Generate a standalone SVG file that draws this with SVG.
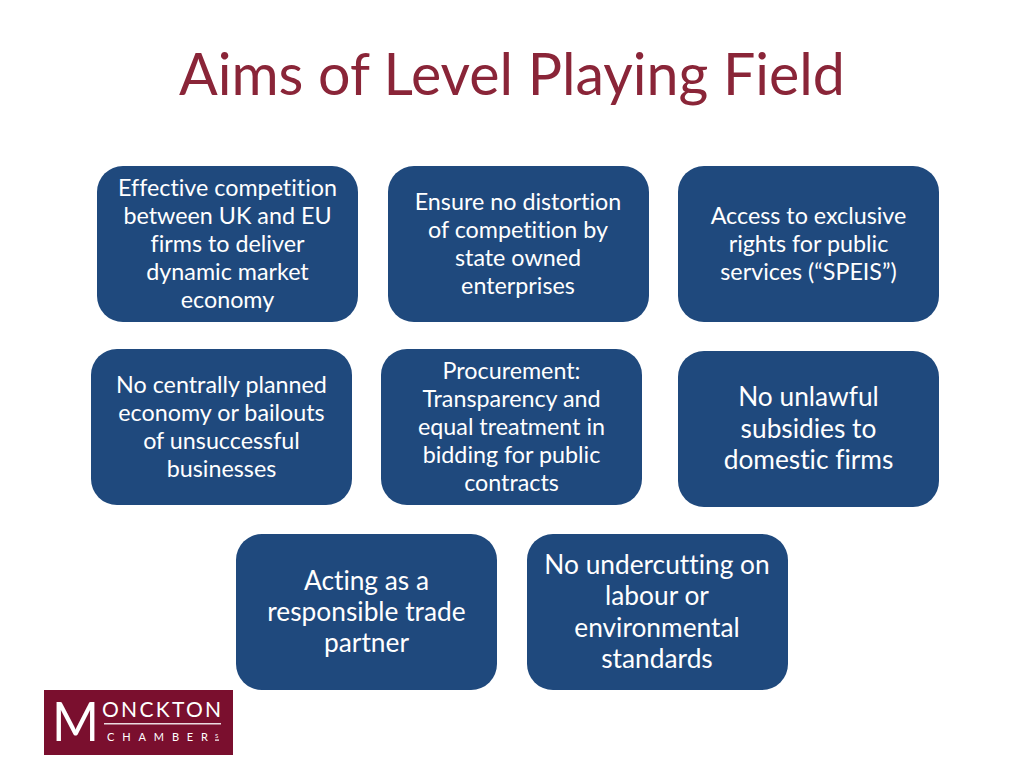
<svg xmlns="http://www.w3.org/2000/svg" width="1024" height="768" viewBox="0 0 1024 768">
<style>
text{font-variant-ligatures:none}
.b{fill:#1f497d}
.t{font-family:"Lato","Noto Sans",sans-serif;fill:#fff;text-anchor:middle;font-size:23.300px}
.l{font-size:26.300px}
.h{font-family:"Lato","Noto Sans",sans-serif;fill:#8a2538;font-size:57.300px}
.m{font-family:"Lato","Liberation Sans",sans-serif;fill:#fff}
</style>
<rect width="1024" height="768" fill="#fff"/>
<text class="h" x="512" y="95" text-anchor="middle">Aims of Level Playing Field</text>
<g id="n1"><rect class="b" x="97" y="166" width="261" height="156" rx="26"/><text class="t" x="227.500" y="195.500">Effective competition</text><text class="t" x="227.500" y="223.500">between UK and EU</text><text class="t" x="227.500" y="251.500">firms to deliver</text><text class="t" x="227.500" y="279.500">dynamic market</text><text class="t" x="227.500" y="307.500">economy</text></g>
<g id="n2"><rect class="b" x="388" y="166" width="261" height="156" rx="26"/><text class="t" x="518" y="209.500">Ensure no distortion</text><text class="t" x="518" y="237.500">of competition by</text><text class="t" x="518" y="265.500">state owned</text><text class="t" x="518" y="293.500">enterprises</text></g>
<g id="n3"><rect class="b" x="678" y="166" width="261" height="156" rx="26"/><text class="t" x="808.500" y="223.500">Access to exclusive</text><text class="t" x="808.500" y="251.500">rights for public</text><text class="t" x="808.500" y="279.500">services (“SPEIS”)</text></g>
<g id="n4"><rect class="b" x="91" y="349" width="261" height="156" rx="26"/><text class="t" x="221.500" y="392.500">No centrally planned</text><text class="t" x="221.500" y="420.500">economy or bailouts</text><text class="t" x="221.500" y="448.500">of unsuccessful</text><text class="t" x="221.500" y="476.500">businesses</text></g>
<g id="n5"><rect class="b" x="381" y="349" width="261" height="156" rx="26"/><text class="t" x="511.500" y="378.500">Procurement:</text><text class="t" x="511.500" y="406.500">Transparency and</text><text class="t" x="511.500" y="434.500">equal treatment in</text><text class="t" x="511.500" y="462.500">bidding for public</text><text class="t" x="511.500" y="490.500">contracts</text></g>
<g id="n6"><rect class="b" x="678" y="351" width="261" height="156" rx="26"/><text class="t l" x="808.500" y="406">No unlawful</text><text class="t l" x="808.500" y="438">subsidies to</text><text class="t l" x="808.500" y="469">domestic firms</text></g>
<g id="n7"><rect class="b" x="236" y="534" width="261" height="156" rx="26"/><text class="t l" x="366.500" y="590">Acting as a</text><text class="t l" x="366.500" y="621">responsible trade</text><text class="t l" x="366.500" y="652">partner</text></g>
<g id="n8"><rect class="b" x="527" y="534" width="261" height="156" rx="26"/><text class="t l" x="657" y="574">No undercutting on</text><text class="t l" x="657" y="605">labour or</text><text class="t l" x="657" y="637">environmental</text><text class="t l" x="657" y="668">standards</text></g>
<g id="logo"><rect x="44" y="690" width="189" height="65" fill="#7a0f2e"/><text class="m" x="52" y="741" font-size="55" textLength="47" lengthAdjust="spacingAndGlyphs">M</text><text class="m" x="102" y="717" font-size="21" textLength="119">ONCKTON</text><rect x="104" y="723" width="117" height="1.500" fill="#fff" opacity="0.85"/><text class="m" x="107" y="741" font-size="11" textLength="101">CHAMBER</text><text class="m" x="215" y="738" font-size="6">S</text><rect x="215" y="739.500" width="4" height="1.200" fill="#fff"/></g>
<g id="connectors"></g>
</svg>
